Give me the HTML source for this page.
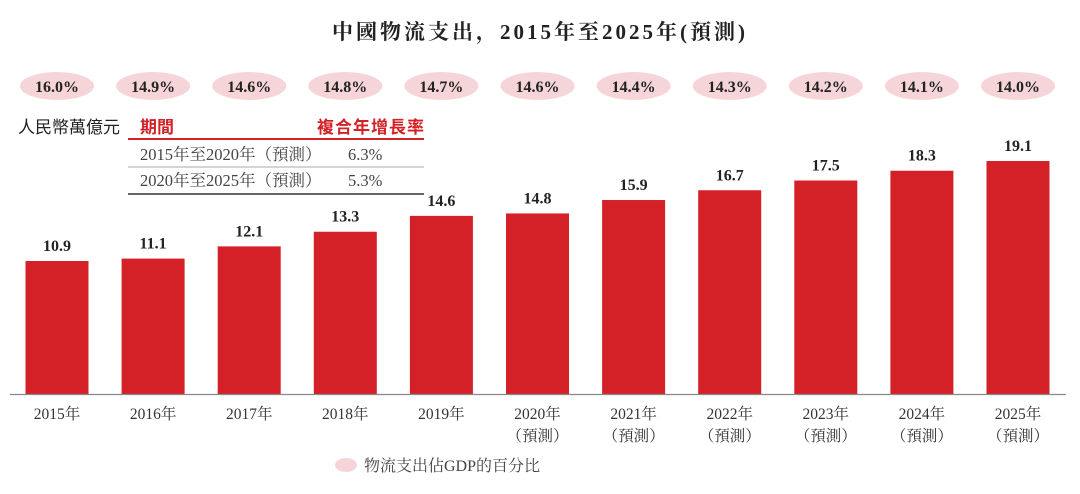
<!DOCTYPE html>
<html><head><meta charset="utf-8"><style>
body{margin:0;background:#fff;width:1080px;height:489px;overflow:hidden}
svg text{font-family:"Liberation Serif","Noto Serif CJK SC","Noto Sans CJK TC",serif}
.cjk{font-family:"Liberation Sans","Noto Sans CJK TC",sans-serif}
</style></head><body>
<svg id="chart" width="1080" height="489" xmlns="http://www.w3.org/2000/svg">
<text x="540" y="39" text-anchor="middle" font-size="21" font-weight="bold" letter-spacing="3" fill="#222">中國物流支出，2015年至2025年(預測)</text>
<g>
<text x="18" y="133" font-size="17" class="cjk" fill="#222">人民幣萬億元</text>
<text x="140" y="133" font-size="17" class="cjk" font-weight="bold" fill="#d42027">期間</text>
<text x="425" y="133" font-size="17" class="cjk" font-weight="bold" fill="#d42027" text-anchor="end" letter-spacing="1">複合年增長率</text>
<line x1="128" y1="139" x2="424" y2="139" stroke="#d42027" stroke-width="2"/>
<text x="140" y="160" font-size="16.5" fill="#444">2015年至2020年（預測）</text>
<text x="348" y="160" font-size="16.5" fill="#444">6.3%</text>
<line x1="128" y1="167" x2="424" y2="167" stroke="#aaa" stroke-width="1"/>
<text x="140" y="186" font-size="16.5" fill="#444">2020年至2025年（預測）</text>
<text x="348" y="186" font-size="16.5" fill="#444">5.3%</text>
<line x1="128" y1="194" x2="424" y2="194" stroke="#333" stroke-width="1.5"/>
</g>
<g id="marks"></g>
<line x1="10" y1="394.5" x2="1066" y2="394.5" stroke="#888" stroke-width="1.2"/>
<ellipse cx="346" cy="465" rx="11" ry="7" fill="#f6d5d8"/>
<text x="364" y="471" font-size="16" fill="#444">物流支出佔GDP的百分比</text>
</svg>
<script>
const categories=["2015年","2016年","2017年","2018年","2019年","2020年","2021年","2022年","2023年","2024年","2025年"];
const forecast=[false,false,false,false,false,true,true,true,true,true,true];
const spending=[10.9,11.1,12.1,13.3,14.6,14.8,15.9,16.7,17.5,18.3,19.1];
const gdpShare=["16.0%","14.9%","14.6%","14.8%","14.7%","14.6%","14.4%","14.3%","14.2%","14.1%","14.0%"];
const NS="http://www.w3.org/2000/svg";
const g=document.getElementById('marks');
const x0=57,step=96.1,base=394,k=12.2,bw=63;
const xs=i=>x0+i*step, ys=v=>base-v*k;
function mk(t,a){const e=document.createElementNS(NS,t);for(const n in a)e.setAttribute(n,a[n]);g.appendChild(e);return e;}
categories.forEach((c,i)=>{
 const cx=xs(i),y=ys(spending[i]);
 const b=mk('rect',{x:cx-bw/2,y:y,width:bw,height:base-y,fill:'#d42027'});
 
 
 const v=mk('text',{x:cx,y:y-10,'text-anchor':'middle','font-size':16,'font-weight':'bold',fill:'#222'});v.textContent=spending[i].toFixed(1);
 
 
 const p=mk('ellipse',{cx:cx,cy:86,rx:37,ry:14,fill:'#f6d5d8'});
 
 
 const pt=mk('text',{x:cx,y:92,'text-anchor':'middle','font-size':16,'font-weight':'bold',fill:'#222'});pt.textContent=gdpShare[i];
 
 
 const t=mk('text',{x:cx,y:419,'text-anchor':'middle','font-size':15.5,fill:'#333'});t.textContent=c;
 
 
 if(forecast[i]){const f=mk('text',{x:cx,y:441,'text-anchor':'middle','font-size':15.5,fill:'#333'});f.textContent='（預測）';
 
 }
});
</script>
</body></html>
